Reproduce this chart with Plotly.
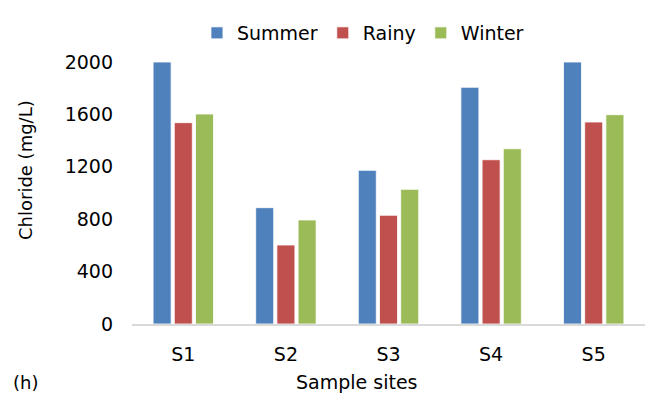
import plotly.graph_objects as go

sites = ["S1", "S2", "S3", "S4", "S5"]
summer = [2000, 888, 1173, 1807, 2000]
rainy = [1537, 603, 830, 1254, 1542]
winter = [1603, 794, 1028, 1338, 1598]
yticks = [0, 400, 800, 1200, 1600, 2000]

font = "DejaVu Sans"
fig = go.Figure()
for name, vals, col in [("Summer", summer, "#4F81BD"), ("Rainy", rainy, "#C0504D"), ("Winter", winter, "#9BBB59")]:
    fig.add_trace(go.Bar(x=sites, y=vals, name=name, marker=dict(color=col, line=dict(color="white", width=0.8))))

fig.update_layout(
    width=654, height=398,
    margin=dict(l=132, r=9, t=62, b=74, autoexpand=False),
    paper_bgcolor="white", plot_bgcolor="white",
    barmode="group", bargap=0.38, bargroupgap=0.15,
    font=dict(family=font, size=19, color="black"),
    legend=dict(orientation="h", xref="container", x=0.555, xanchor="center",
                yref="container", y=1 - 33 / 398, yanchor="middle",
                font=dict(size=19), itemwidth=30, tracegroupgap=0),
    showlegend=True,
    xaxis=dict(showline=True, linecolor="#D9D9D9", linewidth=1.5, ticks="",
               tickfont=dict(size=19), ticklabelstandoff=12, automargin=False),
    yaxis=dict(range=[0, 2000], tickvals=yticks, showgrid=False, zeroline=False, showline=False,
               ticks="", tickfont=dict(size=19), ticklabelstandoff=18, automargin=False),
)
fig.add_annotation(text="Chloride (mg/L)", xref="paper", yref="paper",
                   x=(25 - 132) / 513, y=(324 - 170) / 262, textangle=-90,
                   showarrow=False, font=dict(size=18), xanchor="center", yanchor="middle")
fig.add_annotation(text="Sample sites", xref="paper", yref="paper",
                   x=(357 - 132) / 513, y=(324 - 382) / 262,
                   showarrow=False, font=dict(size=19), xanchor="center", yanchor="middle")
fig.add_annotation(text="(h)", xref="paper", yref="paper",
                   x=(25 - 132) / 513, y=(324 - 382) / 262,
                   showarrow=False, font=dict(size=18), xanchor="center", yanchor="middle")
fig.write_html("out.html")
